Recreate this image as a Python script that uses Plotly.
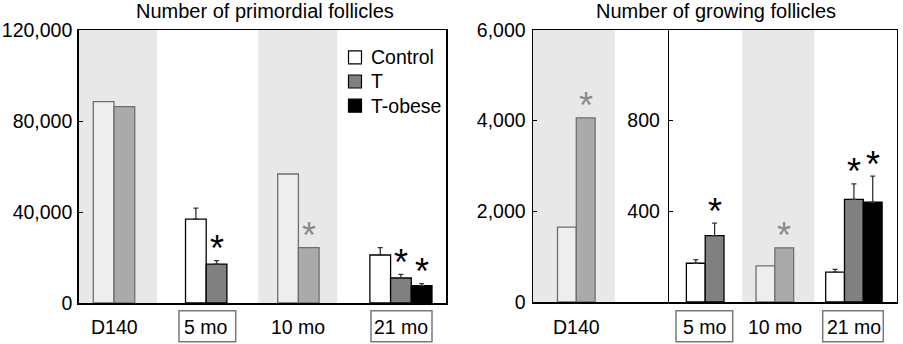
import plotly.graph_objects as go

# ---------------- data ----------------
categories = ["D140", "5 mo", "10 mo", "21 mo"]
series_names = ["Control", "T", "T-obese"]

primordial_control = [88500, 36900, 56700, 21100]
primordial_t = [86300, 17100, 24300, 11000]
primordial_tobese = [None, None, None, 7600]
primordial_control_err = [None, 4800, None, 3200]
primordial_t_err = [None, 1500, None, 1600]
primordial_tobese_err = [None, None, None, 900]
primordial_control_sig = [False, False, False, False]
primordial_t_sig = [False, True, True, True]
primordial_tobese_sig = [False, False, False, True]

growing_control = [1650, 171, 159, 132]
growing_t = [4060, 293, 239, 453]
growing_tobese = [None, None, None, 440]
growing_control_err = [None, 16, None, 12]
growing_t_err = [None, 55, None, 68]
growing_tobese_err = [None, None, None, 115]
growing_control_sig = [False, False, False, False]
growing_t_sig = [True, True, True, True]
growing_tobese_sig = [False, False, False, True]

primordial_ticks = [0, 40000, 80000, 120000]
growing_ticks_d140 = [0, 2000, 4000, 6000]
growing_ticks_adult = [400, 800]

panel_titles = ["Number of primordial follicles", "Number of growing follicles"]

# ---------------- styling ----------------
W, H = 903, 344
FONT = "Liberation Sans, Arial, sans-serif"
shaded = [True, False, True, False]
BAND = "#e8e8e8"
fills = {
    ("Control", False): "#ffffff", ("Control", True): "#eeeeee",
    ("T", False): "#808080", ("T", True): "#aaaaaa",
    ("T-obese", False): "#000000", ("T-obese", True): "#000000",
}
edges = {False: "#000000", True: "#6e6e6e"}
star_col = {False: "#000000", True: "#8a8a8a"}
legend_fill = {"Control": "#ffffff", "T": "#808080", "T-obese": "#000000"}


def px(x):
    return x / W


def py(y):
    return 1 - y / H


fig = go.Figure()
annotations = []
shapes = []

WL = 0.2245   # bar width (left panel, category units)
WR = 0.27     # bar width (right panel, category units)

panels = [
    dict(vals=[primordial_control, primordial_t, primordial_tobese],
         errs=[primordial_control_err, primordial_t_err, primordial_tobese_err],
         sigs=[primordial_control_sig, primordial_t_sig, primordial_tobese_sig],
         axes=lambda i: ("x", "y"), w=WL),
    dict(vals=[growing_control, growing_t, growing_tobese],
         errs=[growing_control_err, growing_t_err, growing_tobese_err],
         sigs=[growing_control_sig, growing_t_sig, growing_tobese_sig],
         axes=lambda i: ("x2", "y2") if i == 0 else ("x3", "y3"), w=WR),
]

for p in panels:
    w = p["w"]
    for k, name in enumerate(series_names):
        vals, errs, sigs = p["vals"][k], p["errs"][k], p["sigs"][k]
        offset = (k - 1) * w
        groups = {}
        for i, v in enumerate(vals):
            if v is None:
                continue
            key = (p["axes"](i), shaded[i])
            groups.setdefault(key, []).append(i)
        for ((xa, ya), sh), idx in groups.items():
            has_err = any(errs[i] is not None for i in idx)
            fig.add_trace(go.Bar(
                x=idx, y=[vals[i] for i in idx], name=name,
                width=w, offset=offset,
                xaxis=xa, yaxis=ya, showlegend=False,
                marker=dict(color=fills[(name, sh)],
                            line=dict(color=edges[sh], width=1.3)),
                error_y=dict(type="data", symmetric=False,
                             array=[errs[i] or 0 for i in idx],
                             arrayminus=[0] * len(idx),
                             visible=has_err, color="#333333",
                             thickness=1.3, width=2.5),
            ))
        # significance asterisks
        for i, v in enumerate(vals):
            if v is None or not sigs[i]:
                continue
            xa, ya = p["axes"](i)
            annotations.append(dict(
                x=i + offset + w / 2, y=v + (errs[i] or 0),
                xref=xa, yref=ya, text="*", showarrow=False,
                xanchor="center", yanchor="middle", yshift=12,
                font=dict(family=FONT, size=36, color=star_col[shaded[i]])))

# category labels
for p in panels:
    w = p["w"]
    for i, c in enumerate(categories):
        n = sum(1 for vs in p["vals"] if vs[i] is not None)
        xa, _ = p["axes"](i)
        annotations.append(dict(
            x=i + (n - 2) * w / 2, y=py(326.5), xref=xa, yref="paper",
            text=c, showarrow=False, xanchor="center", yanchor="middle",
            font=dict(family=FONT, size=19.5, color="black")))

# boxes around labels
label_boxes = [(179, 235.7), (371, 432), (676, 732.7), (822.7, 883.3)]
for x0, x1 in label_boxes:
    shapes.append(dict(type="rect", xref="paper", yref="paper",
                       x0=px(x0), x1=px(x1), y0=py(341.7), y1=py(310.7),
                       line=dict(color="#7a7a7a", width=1.5)))

# shaded bands
bands = [(78.7, 157, 303), (258.3, 337.3, 303), (533, 615, 302), (742.3, 814.3, 302)]
for x0, x1, yb in bands:
    shapes.append(dict(type="rect", xref="paper", yref="paper", layer="below",
                       x0=px(x0), x1=px(x1), y0=py(yb), y1=py(30),
                       fillcolor=BAND, line=dict(width=0)))

# legend (manual)
rows = [57.3, 81.5, 105.7]
for name, yr in zip(series_names, rows):
    shapes.append(dict(type="rect", xref="paper", yref="paper",
                       x0=px(348.5), x1=px(361.5), y0=py(yr + 6.5), y1=py(yr - 6.5),
                       fillcolor=legend_fill[name],
                       line=dict(color="black", width=1.2)))
    annotations.append(dict(x=px(369), y=py(yr), xref="paper", yref="paper",
                            text=name, showarrow=False, xanchor="left",
                            yanchor="middle",
                            font=dict(family=FONT, size=19.5, color="black")))

# titles
for t, xc in zip(panel_titles, [265, 715.5]):
    annotations.append(dict(x=px(xc), y=py(11.5), xref="paper", yref="paper",
                            text=t, showarrow=False, xanchor="center",
                            yanchor="middle",
                            font=dict(family=FONT, size=20, color="black")))

axis_common = dict(showgrid=False, zeroline=False, showline=True, mirror=True,
                   linecolor="black", linewidth=1.5)
xcommon = dict(axis_common, showticklabels=False, ticks="")
ycommon = dict(axis_common, ticks="inside", ticklen=4, tickwidth=1,
               tickcolor="black", tickformat=",d",
               tickfont=dict(family=FONT, size=19.5, color="black"))

fig.update_layout(
    width=W, height=H,
    margin=dict(l=0, r=0, t=0, b=0, pad=0, autoexpand=False),
    paper_bgcolor="white", plot_bgcolor="rgba(0,0,0,0)",
    barmode="overlay", showlegend=False,
    xaxis=dict(xcommon, domain=[px(78.7), px(446)], range=[-0.383, 3.601], anchor="y"),
    yaxis=dict(ycommon, domain=[py(303), py(30)], range=[0, 120000],
               tickvals=primordial_ticks, anchor="x", ticklabelstandoff=1),
    xaxis2=dict(xcommon, domain=[px(533), px(669.3)], range=[-0.6217, 1.3353], anchor="y2"),
    yaxis2=dict(ycommon, domain=[py(302), py(30)], range=[0, 6000], mirror=False,
                tickvals=growing_ticks_d140, anchor="x2", ticklabelstandoff=2),
    xaxis3=dict(xcommon, domain=[px(669.3), px(896.7)], range=[0.4846, 3.7495], anchor="y3"),
    yaxis3=dict(ycommon, domain=[py(302), py(30)], range=[0, 1200],
                tickvals=growing_ticks_adult, anchor="x3", ticklabelstandoff=4),
    annotations=annotations, shapes=shapes,
)

fig.write_html(
    "out.html",
    config={"displayModeBar": False, "staticPlot": True},
    post_script="document.body.style.margin='0px';document.body.style.overflow='hidden';",
)
